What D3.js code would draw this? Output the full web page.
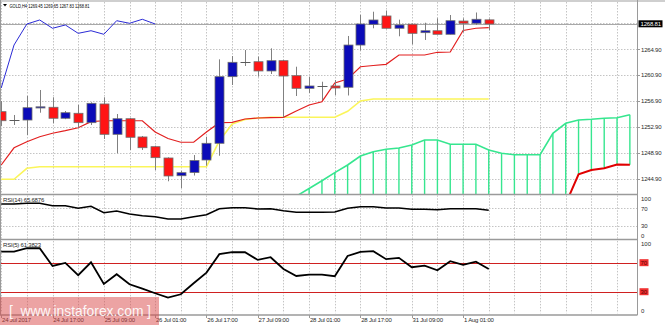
<!DOCTYPE html>
<html><head><meta charset="utf-8">
<script src="https://cdn.jsdelivr.net/npm/d3@7"></script>
<style>
html,body{margin:0;padding:0;background:#fff;overflow:hidden}
svg{display:block}
text{font-family:"Liberation Sans",Arial,sans-serif}
</style>
</head><body>
<svg id="c" width="665" height="325"></svg>
<script>
// ---------- data ----------
const symbolTitle = "GOLD,H4  1269.45 1269.65 1267.83 1268.81";
const timeLabels = ["24 Jul 2017","24 Jul 17:00","25 Jul 09:00","26 Jul 01:00","26 Jul 17:00","27 Jul 09:00","28 Jul 01:00","28 Jul 17:00","31 Jul 09:00","1 Aug 01:00"];
const timeLabelBars = [0,4,8,12,16,20,24,28,32,36];
const priceTicks = [1244.90,1248.90,1252.90,1256.90,1260.90,1264.90];
const lastPrice = 1268.81;
const rsiTicks = [100,70,30,0];
const rsiLevels = [70,30];

const open  = [1255.26,1253.95,1253.97,1255.83,1255.94,1254.24,1255.01,1253.56,1256.45,1251.76,1254.17,1251.35,1249.85,1248.10,1245.36,1245.86,1247.79,1250.37,1260.67,1262.98,1262.98,1261.55,1263.14,1260.82,1258.87,1259.20,1259.23,1259.03,1265.56,1268.76,1270.05,1268.15,1268.78,1267.47,1267.77,1267.22,1269.27,1268.92,1269.45];
const high  = [1256.91,1254.75,1257.68,1258.61,1257.48,1255.36,1256.29,1256.71,1257.48,1254.90,1254.30,1251.50,1250.00,1248.20,1246.09,1248.56,1251.39,1263.35,1263.86,1264.79,1263.76,1265.05,1263.24,1262.21,1260.67,1259.89,1260.15,1266.96,1270.20,1270.71,1270.90,1269.48,1268.89,1269.01,1269.69,1270.20,1269.69,1270.59,1269.65];
const low   = [1253.05,1253.20,1251.65,1255.10,1253.46,1254.10,1252.78,1253.20,1251.04,1248.83,1249.34,1249.34,1246.24,1244.50,1243.46,1245.39,1246.91,1248.45,1259.38,1262.32,1260.67,1261.08,1254.39,1257.68,1258.15,1257.06,1257.84,1257.76,1264.71,1268.15,1268.10,1266.91,1265.67,1266.34,1267.22,1267.20,1267.53,1268.66,1267.83];
const close = [1253.86,1253.95,1255.87,1256.01,1254.24,1255.10,1253.56,1256.55,1251.76,1254.17,1251.30,1249.69,1248.15,1245.32,1245.83,1247.71,1250.37,1260.67,1262.89,1262.98,1261.55,1263.14,1260.77,1258.87,1259.23,1259.20,1258.92,1265.56,1268.81,1269.43,1268.15,1268.66,1267.37,1267.77,1267.22,1269.32,1268.92,1269.54,1268.81];

const tenkan = [1247.02,1249.68,1250.62,1251.39,1251.92,1252.32,1252.78,1253.71,1253.86,1253.86,1253.86,1253.86,1252.12,1251.11,1250.53,1250.53,1252.12,1253.56,1253.62,1254.13,1254.28,1254.33,1254.39,1255.36,1256.29,1256.80,1259.69,1260.31,1262.21,1262.40,1262.58,1264.02,1264.02,1264.02,1264.44,1264.48,1267.81,1268.15,1268.24];
const kijun  = [1244.81,1244.81,1246.51,1246.75,1246.75,1246.75,1246.75,1246.75,1246.75,1246.75,1246.75,1246.75,1246.75,1246.75,1246.75,1246.75,1246.75,1250.73,1253.35,1254.05,1254.28,1254.39,1254.39,1254.39,1254.39,1254.39,1254.39,1255.32,1256.91,1257.22,1257.22,1257.22,1257.22,1257.22,1257.22,1257.22,1257.22,1257.22,1257.22];
const chikouShift = 26;
const spanStart = 23;
const spanA = [1242.20,1243.39,1244.59,1245.83,1247.02,1248.41,1249.07,1249.44,1249.64,1250.11,1250.88,1250.88,1250.22,1250.22,1250.22,1249.34,1248.83,1248.61,1248.61,1248.61,1251.92,1253.46,1253.97,1254.08,1254.24,1254.33,1254.79];
const spanB = [1240.20,1240.20,1240.20,1240.20,1240.20,1240.20,1240.20,1240.20,1240.20,1240.20,1240.20,1240.20,1240.20,1240.20,1240.20,1240.20,1240.20,1240.20,1240.20,1240.20,1240.20,1241.02,1245.58,1246.24,1246.52,1247.09,1247.06];

const rsi14 = [80.0,80.0,81.6,81.6,76.1,76.1,70.1,74.7,60.0,63.9,57.0,53.0,50.7,45.5,45.5,50.7,55.4,69.2,71.5,71.5,68.5,69.2,64.6,60.9,60.9,60.9,61.6,70.1,73.8,73.8,70.8,70.8,67.8,67.8,66.9,69.2,69.2,69.2,65.69];
const rsi5  = [85.2,85.2,89.9,89.9,65.5,69.7,52.7,70.6,40.7,54.1,40.3,34.2,27.9,21.8,26.5,41.7,56.3,81.7,84.4,84.4,73.8,77.5,61.4,51.7,53.5,53.5,51.3,79.3,84.8,85.8,74.8,76.6,63.7,65.9,59.6,72.0,66.9,71.4,61.38];
const rsi14Label = "RSI(14) 65.6876";
const rsi5Label = "RSI(5) 61.3823";

// ---------- layout ----------
const axisX = 637;
const mainP = {top:2, bottom:194};
const p14 = {top:195.3, bottom:238.75};
const p5  = {top:240.9, bottom:313.5};
const lastBar = 49;

const svg = d3.select("#c");
const x = d3.scaleLinear().domain([0, lastBar]).range([1.2, 1.2 + lastBar*12.83]);
const y = d3.scaleLinear().domain([1244.9, 1264.9]).range([178.7, 49.3]);
const y14 = d3.scaleLinear().domain([0,100]).range([p14.bottom, p14.top]);
const y5  = d3.scaleLinear().domain([0,100]).range([p5.bottom, p5.top]);

const defs = svg.append("defs");
function clip(id, p){
  defs.append("clipPath").attr("id", id).append("rect")
    .attr("x", 0).attr("y", p.top).attr("width", axisX).attr("height", p.bottom - p.top);
}
clip("cm", mainP); clip("c14", p14); clip("c5", p5);

const GRID = "#c4c4c4";
// ---------- grids ----------
const gridBars = d3.range(0, lastBar, 2);
[[mainP,"cm"],[p14,"c14"],[p5,"c5"]].forEach(([p,id])=>{
  svg.append("g").attr("clip-path",`url(#${id})`).selectAll("line").data(gridBars).join("line")
    .attr("x1", d=>Math.round(x(d))+0.5).attr("x2", d=>Math.round(x(d))+0.5)
    .attr("y1", p.top).attr("y2", p.bottom)
    .attr("stroke", GRID).attr("stroke-width",1).attr("stroke-dasharray","1.5,1.5");
});
const mainGridLevels = priceTicks.concat([1268.90]);
svg.append("g").selectAll("line").data(mainGridLevels).join("line")
  .attr("x1",0).attr("x2",axisX).attr("y1",d=>Math.round(y(d))+0.5).attr("y2",d=>Math.round(y(d))+0.5)
  .attr("stroke",GRID).attr("stroke-dasharray","1.5,1.5");
svg.append("g").selectAll("line").data(rsiLevels).join("line")
  .attr("x1",0).attr("x2",axisX).attr("y1",d=>Math.round(y14(d))+0.5).attr("y2",d=>Math.round(y14(d))+0.5)
  .attr("stroke",GRID).attr("stroke-dasharray","1.5,1.5");

// bid line
svg.append("line").attr("x1",0).attr("x2",axisX)
  .attr("y1",Math.round(y(lastPrice))+0.5).attr("y2",Math.round(y(lastPrice))+0.5)
  .attr("stroke","#a8a8a8").attr("stroke-width",1);

// ---------- main panel ----------
const gm = svg.append("g").attr("clip-path","url(#cm)");
const GREEN = "#36e68f";
const spanIdx = d3.range(spanA.length);
// cloud hatching
gm.append("g").selectAll("line").data(spanIdx).join("line")
  .attr("x1", i=>x(spanStart+i)).attr("x2", i=>x(spanStart+i))
  .attr("y1", i=>y(spanA[i])).attr("y2", i=>y(spanB[i]))
  .attr("stroke", GREEN).attr("stroke-width",1.4);
gm.append("path").datum(spanIdx)
  .attr("d", d3.line().x(i=>x(spanStart+i)).y(i=>y(spanB[i])))
  .attr("fill","none").attr("stroke","#e00000").attr("stroke-width",2);
gm.append("path").datum(spanIdx)
  .attr("d", d3.line().x(i=>x(spanStart+i)).y(i=>y(spanA[i])))
  .attr("fill","none").attr("stroke",GREEN).attr("stroke-width",1.6);

const bars = d3.range(close.length);
// kijun
gm.append("path").datum(bars)
  .attr("d", d3.line().x(i=>x(i)).y(i=>y(kijun[i])))
  .attr("fill","none").attr("stroke","#fbf55a").attr("stroke-width",1.6);
// tenkan
gm.append("path").datum(bars)
  .attr("d", d3.line().x(i=>x(i)).y(i=>y(tenkan[i])))
  .attr("fill","none").attr("stroke","#e21f1f").attr("stroke-width",1.2);
// chikou (close shifted back)
const chIdx = d3.range(close.length - chikouShift);
gm.append("path").datum(chIdx)
  .attr("d", d3.line().x(i=>x(i)).y(i=>y(close[i+chikouShift])))
  .attr("fill","none").attr("stroke","#2b2bd6").attr("stroke-width",1);

// candles
const cg = gm.append("g");
bars.forEach(i=>{
  const cx = Math.round(x(i)) + 0.5;
  cg.append("line").attr("x1",cx).attr("x2",cx).attr("y1",y(high[i])).attr("y2",y(low[i]))
    .attr("stroke","#808080").attr("stroke-width",1);
  const o = open[i], c = close[i];
  if (o === c) {
    cg.append("line").attr("x1",cx-5).attr("x2",cx+5).attr("y1",Math.round(y(o))+0.5).attr("y2",Math.round(y(o))+0.5)
      .attr("stroke","#5a5a5a").attr("stroke-width",1);
  } else {
    const top = y(Math.max(o,c)), bot = y(Math.min(o,c));
    cg.append("rect").attr("x",cx-4.5).attr("width",9)
      .attr("y",top).attr("height",Math.max(1,bot-top))
      .attr("fill", c>o ? "#0b0bb8" : "#ff1414")
      .attr("stroke","#6e6e6e").attr("stroke-width",0.8);
  }
});

// ---------- RSI panels ----------
const g14 = svg.append("g").attr("clip-path","url(#c14)");
g14.append("path").datum(bars).attr("d", d3.line().x(i=>x(i)).y(i=>y14(rsi14[i])))
  .attr("fill","none").attr("stroke","#000").attr("stroke-width",1.6);
const g5 = svg.append("g").attr("clip-path","url(#c5)");
g5.selectAll("line.lv").data(rsiLevels).join("line").attr("class","lv")
  .attr("x1",0).attr("x2",axisX).attr("y1",d=>Math.round(y5(d))+0.5).attr("y2",d=>Math.round(y5(d))+0.5)
  .attr("stroke","#cf2020").attr("stroke-width",1);
g5.append("path").datum(bars).attr("d", d3.line().x(i=>x(i)).y(i=>y5(rsi5[i])))
  .attr("fill","none").attr("stroke","#000").attr("stroke-width",1.8);

// ---------- frames ----------
svg.append("rect").attr("x",0).attr("y",0).attr("width",665).attr("height",2).attr("fill","#cfcfcf");
const FR = "#9a9a9a";
[194.5, 239.5, 315].forEach(v=>svg.append("line").attr("x1",0).attr("x2",axisX+0.5).attr("y1",v).attr("y2",v).attr("stroke",FR).attr("stroke-width",1.4));
svg.append("line").attr("x1",axisX+0.5).attr("x2",axisX+0.5).attr("y1",0).attr("y2",315).attr("stroke",FR).attr("stroke-width",1);
svg.append("line").attr("x1",0.5).attr("x2",0.5).attr("y1",0).attr("y2",315).attr("stroke",FR).attr("stroke-width",1);

// ---------- axis texts ----------
const TXT = "#2a2a2a";
const fmt = d3.format(".2f");
svg.append("g").selectAll("text").data(priceTicks).join("text")
  .attr("x",641).attr("y",d=>y(d)+2.2).attr("font-size",6).attr("letter-spacing",-0.2)
  .attr("fill",TXT).text(d=>fmt(d));
svg.append("g").selectAll("line").data(priceTicks).join("line")
  .attr("x1",axisX).attr("x2",axisX+3).attr("y1",d=>Math.round(y(d))+0.5).attr("y2",d=>Math.round(y(d))+0.5)
  .attr("stroke",FR);
// last price box
const ly = y(lastPrice);
svg.append("rect").attr("x",638.5).attr("y",ly-3.7).attr("width",24).attr("height",7).attr("fill","#000");
svg.append("text").attr("x",640.5).attr("y",ly+2.2).attr("font-size",6).attr("letter-spacing",-0.2)
  .attr("fill","#fff").text(fmt(lastPrice));

function rsiAxis(scale, p, boxed){
  const g = svg.append("g");
  rsiTicks.forEach(v=>{
    const yy = Math.max(p.top+3, Math.min(p.bottom-3, scale(v)));
    if (boxed && rsiLevels.includes(v)) {
      g.append("rect").attr("x",639.5).attr("y",yy-3.5).attr("width",9).attr("height",7).attr("fill","#f03030");
      g.append("text").attr("x",640.5).attr("y",yy+2.2).attr("font-size",6).attr("fill","#5a0000").text(v);
    } else {
      g.append("text").attr("x",641).attr("y",yy+2.2).attr("font-size",6).attr("fill",TXT).text(v);
    }
  });
}
rsiAxis(y14, p14, false);
rsiAxis(y5, p5, true);

// panel labels
svg.append("text").attr("x",3).attr("y",201.6).attr("font-size",6).attr("letter-spacing",-0.2).attr("fill",TXT).text(rsi14Label);
svg.append("text").attr("x",3).attr("y",247.2).attr("font-size",6).attr("letter-spacing",-0.2).attr("fill",TXT).text(rsi5Label);
// title
svg.append("path").attr("d","M3,4 L7,4 L5,6.5 Z").attr("fill","#000");
svg.append("text").attr("x",9.5).attr("y",7.6).attr("font-size",6.2)
  .attr("textLength",80).attr("lengthAdjust","spacingAndGlyphs").attr("fill","#000").text(symbolTitle);

// time axis
svg.append("g").selectAll("line").data(timeLabelBars).join("line")
  .attr("x1",d=>Math.round(x(d))+0.5).attr("x2",d=>Math.round(x(d))+0.5).attr("y1",315).attr("y2",318)
  .attr("stroke",FR);
svg.append("g").selectAll("text").data(timeLabelBars).join("text")
  .attr("x",d=>x(d)+0.8).attr("y",322).attr("font-size",6).attr("letter-spacing",-0.2)
  .attr("fill",TXT).text((d,i)=>timeLabels[i]);

// watermark
svg.append("rect").attr("x",0).attr("y",297).attr("width",159).attr("height",28).attr("fill","#d94848").attr("opacity",0.5);
const wm = svg.append("g").attr("fill","#fff").attr("font-size",14).attr("opacity",0.92);
wm.append("text").attr("x",9).attr("y",316).text("[");
wm.append("text").attr("x",20.5).attr("y",316).attr("textLength",123).attr("lengthAdjust","spacingAndGlyphs").text("www.instaforex.com");
wm.append("text").attr("x",147).attr("y",316).text("]");
</script>
</body></html>
